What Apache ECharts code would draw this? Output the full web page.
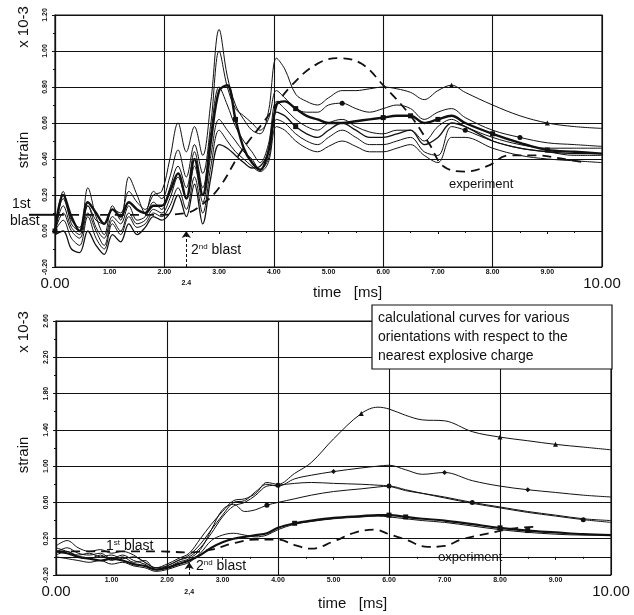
<!DOCTYPE html>
<html>
<head>
<meta charset="utf-8">
<script src="https://cdn.jsdelivr.net/npm/echarts@6.0.0/dist/echarts.min.js"></script>
<style>
html, body { margin: 0; padding: 0; background: #fff; }
#main { width: 634px; height: 615px; }
</style>
</head>
<body>
<div id="main"></div>
<script>
// ---- upper plot : strain at the gauge, calc curves + experiment ----
var topTime = [0, 0.15, 0.3, 0.45, 0.6, 0.75, 0.9, 1.05, 1.2, 1.35,
  1.5, 1.65, 1.8, 1.95, 2.1, 2.25, 2.4, 2.55, 2.7, 2.85,
  3.0, 3.15, 3.3, 3.45, 3.6, 3.75, 3.9, 4.05, 4.2, 4.4,
  4.6, 4.8, 5.0, 5.25, 5.5, 5.75, 6.0, 6.25, 6.5, 6.75,
  7.0, 7.25, 7.5, 8.0, 8.5, 9.0, 9.5, 10.0];
var topCurveA = [0.00, 0.18, 0.06, 0.02, 0.14, 0.06, 0.04, 0.12, 0.10, 0.22,
  0.16, 0.12, 0.20, 0.22, 0.40, 0.60, 0.44, 0.58, 0.42, 0.72,
  1.12, 0.86, 0.70, 0.62, 0.56, 0.54, 0.66, 0.96, 0.90, 0.76,
  0.72, 0.70, 0.74, 0.78, 0.78, 0.79, 0.80, 0.79, 0.77, 0.73,
  0.78, 0.81, 0.77, 0.70, 0.64, 0.60, 0.58, 0.57];
var topCurveB = [0.00, 0.22, 0.04, 0.00, 0.24, 0.08, -0.02, 0.14, 0.06, 0.30,
  0.20, 0.10, 0.22, 0.18, 0.30, 0.45, 0.30, 0.48, 0.32, 0.60,
  1.00, 0.80, 0.68, 0.64, 0.60, 0.56, 0.62, 0.78, 0.74, 0.68,
  0.66, 0.66, 0.70, 0.71, 0.68, 0.66, 0.68, 0.70, 0.68, 0.62,
  0.66, 0.68, 0.63, 0.56, 0.52, 0.49, 0.48, 0.47];
var topCurveC = [0.00, 0.20, 0.08, 0.00, 0.16, 0.10, 0.04, 0.12, 0.08, 0.16,
  0.12, 0.10, 0.14, 0.14, 0.22, 0.32, 0.18, 0.40, 0.20, 0.50,
  0.78, 0.81, 0.62, 0.46, 0.38, 0.34, 0.44, 0.70, 0.72, 0.68,
  0.64, 0.62, 0.60, 0.60, 0.61, 0.62, 0.63, 0.64, 0.64, 0.60,
  0.62, 0.64, 0.60, 0.54, 0.49, 0.45, 0.44, 0.43];
var topCurveD = [0.00, 0.14, 0.02, -0.02, 0.14, 0.02, -0.04, 0.08, 0.04, 0.14,
  0.06, 0.08, 0.16, 0.12, 0.24, 0.36, 0.24, 0.44, 0.24, 0.55,
  0.80, 0.70, 0.58, 0.50, 0.44, 0.38, 0.48, 0.72, 0.68, 0.62,
  0.58, 0.56, 0.60, 0.62, 0.58, 0.55, 0.54, 0.56, 0.56, 0.50,
  0.58, 0.62, 0.58, 0.52, 0.48, 0.46, 0.46, 0.46];
var topCurveE = [0.00, 0.10, 0.00, -0.04, 0.10, 0.00, -0.08, 0.06, 0.00, 0.10,
  0.04, 0.06, 0.12, 0.10, 0.18, 0.30, 0.18, 0.36, 0.16, 0.42,
  0.62, 0.56, 0.50, 0.44, 0.40, 0.34, 0.40, 0.62, 0.60, 0.54,
  0.50, 0.48, 0.52, 0.56, 0.52, 0.48, 0.48, 0.50, 0.52, 0.44,
  0.42, 0.58, 0.56, 0.50, 0.46, 0.44, 0.42, 0.42];
var topCurveF = [0.00, 0.06, -0.04, -0.08, 0.08, -0.04, -0.10, 0.04, -0.02, 0.08,
  0.02, 0.04, 0.10, 0.08, 0.14, 0.24, 0.12, 0.30, 0.10, 0.36,
  0.56, 0.50, 0.44, 0.40, 0.36, 0.33, 0.38, 0.58, 0.56, 0.50,
  0.46, 0.44, 0.47, 0.50, 0.47, 0.44, 0.44, 0.46, 0.48, 0.42,
  0.38, 0.52, 0.52, 0.46, 0.42, 0.40, 0.39, 0.38];
var topCurveG = [-0.02, 0.00, -0.10, -0.12, 0.00, -0.08, -0.13, -0.02, -0.06, 0.04,
  -0.02, 0.02, 0.08, 0.06, 0.10, 0.20, 0.08, 0.26, 0.04, 0.30,
  0.48, 0.46, 0.42, 0.38, 0.35, 0.36, 0.44, 0.66, 0.64, 0.58,
  0.54, 0.52, 0.56, 0.60, 0.56, 0.52, 0.52, 0.54, 0.56, 0.48,
  0.52, 0.60, 0.58, 0.50, 0.46, 0.44, 0.43, 0.43];
var topExpTime = [0, 0.6, 1.2, 1.8, 2.4, 2.7, 3.0, 3.4, 3.8, 4.3, 4.8, 5.2,
  5.6, 6.0, 6.5, 6.85, 7.1, 7.5, 7.9, 8.3, 8.8, 9.3, 9.7];
var topExpStrain = [0.09, 0.09, 0.09, 0.09, 0.10, 0.15, 0.24, 0.44, 0.60, 0.80, 0.93, 0.96,
  0.93, 0.81, 0.64, 0.48, 0.36, 0.33, 0.36, 0.42, 0.42, 0.40, 0.38];

// ---- lower plot ----
var bottomTime = [0, 0.2, 0.4, 0.6, 0.8, 1.0, 1.2, 1.4, 1.6, 1.8,
  2.0, 2.2, 2.4, 2.6, 2.8, 3.0, 3.2, 3.4, 3.6, 3.8,
  4.0, 4.3, 4.6, 5.0, 5.5, 5.8, 6.0, 6.3, 6.6, 7.0,
  7.5, 8.0, 8.5, 9.0, 9.5, 10.0];
var bottomCurve1 = [0.12, 0.18, 0.10, 0.06, 0.08, 0.04, 0.06, 0.02, -0.06, -0.12,
  -0.08, -0.02, 0.04, 0.20, 0.36, 0.50, 0.62, 0.64, 0.70, 0.82,
  0.80, 0.92, 1.04, 1.30, 1.58, 1.65, 1.63, 1.56, 1.51, 1.50,
  1.38, 1.32, 1.28, 1.24, 1.21, 1.18];
var bottomCurve2 = [0.05, 0.10, 0.04, 0.02, 0.04, -0.02, 0.02, -0.04, -0.08, -0.14,
  -0.10, -0.04, 0.02, 0.14, 0.30, 0.46, 0.60, 0.62, 0.72, 0.80,
  0.78, 0.86, 0.90, 0.94, 0.98, 1.00, 1.01, 0.96, 0.91, 0.93,
  0.84, 0.78, 0.74, 0.71, 0.68, 0.66];
var bottomCurve3 = [0.10, 0.06, 0.02, 0.04, 0.00, 0.02, -0.02, 0.00, -0.06, -0.12,
  -0.10, -0.04, 0.00, 0.10, 0.26, 0.44, 0.56, 0.60, 0.68, 0.78,
  0.79, 0.81, 0.82, 0.81, 0.80, 0.79, 0.78, 0.73, 0.70, 0.66,
  0.60, 0.55, 0.50, 0.46, 0.42, 0.40];
var bottomCurve4 = [0.02, 0.06, 0.00, -0.02, 0.02, -0.04, 0.00, -0.06, -0.04, -0.14,
  -0.12, -0.06, -0.02, 0.08, 0.30, 0.52, 0.58, 0.50, 0.52, 0.57,
  0.60, 0.64, 0.68, 0.72, 0.75, 0.77, 0.78, 0.74, 0.70, 0.65,
  0.59, 0.54, 0.49, 0.45, 0.41, 0.38];
var bottomCurve5 = [0.06, 0.04, 0.00, -0.02, -0.04, -0.02, -0.04, -0.08, -0.10, -0.14,
  -0.12, -0.08, -0.04, 0.02, 0.10, 0.16, 0.20, 0.22, 0.24, 0.26,
  0.32, 0.37, 0.40, 0.43, 0.45, 0.46, 0.46, 0.44, 0.42, 0.40,
  0.36, 0.32, 0.29, 0.27, 0.25, 0.24];
var bottomCurve6 = [0.00, -0.02, -0.04, -0.06, -0.04, -0.08, -0.06, -0.10, -0.12, -0.16,
  -0.14, -0.10, -0.06, 0.04, 0.18, 0.24, 0.26, 0.24, 0.22, 0.24,
  0.30, 0.36, 0.39, 0.42, 0.44, 0.45, 0.44, 0.42, 0.40, 0.38,
  0.34, 0.30, 0.27, 0.25, 0.24, 0.24];
var bottomExpTime = [0, 0.6, 1.2, 1.8, 2.4, 2.8, 3.2, 3.6, 4.0, 4.3, 4.6,
  5.0, 5.4, 5.75, 6.0, 6.3, 6.7, 7.0, 7.3, 7.8, 8.2, 8.6];
var bottomExpStrain = [0.06, 0.06, 0.06, 0.06, 0.05, 0.08, 0.15, 0.19, 0.19, 0.13, 0.09,
  0.17, 0.27, 0.30, 0.25, 0.19, 0.11, 0.12, 0.19, 0.26, 0.31, 0.33];

var secondBlast = 2.4;
var legendLines = ['calculational curves for various',
  'orientations with respect to the',
  'nearest explosive charge'];

var ink = '#111';
var font = 'Liberation Sans, Arial, sans-serif';

var chartDom = document.getElementById('main');
var myChart = echarts.init(chartDom, null, { renderer: 'canvas' });

// one calc curve, a few points get a little marker
function curve(times, vals, grid, width, marks, sym) {
  marks = marks || [];
  return {
    type: 'line',
    xAxisIndex: grid * 2,
    yAxisIndex: grid,
    smooth: 0.35,
    symbol: 'circle',
    symbolSize: 0,
    showSymbol: true,
    showAllSymbol: true,
    silent: true,
    lineStyle: { color: ink, width: width },
    itemStyle: { color: ink },
    data: times.map(function (t, i) {
      if (marks.indexOf(i) >= 0) {
        return { value: [t, vals[i]], symbol: sym, symbolSize: 5 };
      }
      return { value: [t, vals[i]] };
    })
  };
}

function experiment(times, vals, grid, arrowTop) {
  return {
    type: 'line',
    xAxisIndex: grid * 2,
    yAxisIndex: grid,
    smooth: 0.4,
    showSymbol: false,
    silent: true,
    lineStyle: { color: ink, width: 1.8, type: [9, 6] },
    data: times.map(function (t, i) { return [t, vals[i]]; }),
    markLine: {
      silent: true,
      symbol: ['none', 'arrow'],
      symbolSize: 7,
      label: { show: false },
      lineStyle: { color: ink, width: 1, type: [3, 2] },
      data: [[{ coord: [secondBlast, -0.2] }, { coord: [secondBlast, arrowTop] }]]
    }
  };
}

function xAxes(grid) {
  return [{
    type: 'value', gridIndex: grid, min: 0, max: 10, interval: 1,
    axisLine: { lineStyle: { color: ink, width: 1.2 } },
    axisTick: { lineStyle: { color: ink }, length: 3 },
    minorTick: { show: true, splitNumber: 2, length: 2, lineStyle: { color: ink } },
    splitLine: { show: false },
    axisLabel: {
      margin: 2,
      color: ink,
      fontFamily: font,
      formatter: function (v) {
        if (v === 0 || v === 10) return '{big|' + v.toFixed(2) + '}';
        return '{small|' + v.toFixed(2) + '}';
      },
      rich: {
        big: { fontSize: 15, fontFamily: font, color: ink, padding: [7, 0, 0, 0] },
        small: { fontSize: 7, fontFamily: font, fontWeight: 'bold', color: ink }
      }
    }
  }, {
    // only for the vertical grid lines every 2 ms
    type: 'value', gridIndex: grid, min: 0, max: 10, interval: 2,
    axisLine: { show: false }, axisTick: { show: false }, axisLabel: { show: false },
    splitLine: { show: true, lineStyle: { color: ink, width: 1.1 } }
  }];
}

function yAxis(grid, min, max, step) {
  return {
    type: 'value', gridIndex: grid, min: min, max: max, interval: step,
    axisLine: { lineStyle: { color: ink, width: 1.2 } },
    axisTick: { lineStyle: { color: ink }, length: 3 },
    minorTick: { show: true, splitNumber: 2, length: 2, lineStyle: { color: ink } },
    splitLine: { show: true, lineStyle: { color: ink, width: 1.1 } },
    axisLabel: {
      rotate: 90, margin: 6, fontSize: 7, fontWeight: 'bold', color: ink, fontFamily: font,
      formatter: function (v) { return v.toFixed(2); }
    }
  };
}

var option = {
  animation: false,
  backgroundColor: '#fff',
  grid: [
    { left: 55, top: 15, width: 547, height: 252, show: true, borderColor: ink, borderWidth: 1.2 },
    { left: 56, top: 321, width: 555, height: 254, show: true, borderColor: ink, borderWidth: 1.2 }
  ],
  xAxis: xAxes(0).concat(xAxes(1)),
  yAxis: [yAxis(0, -0.2, 1.2, 0.2), yAxis(1, -0.2, 2.6, 0.4)],
  series: [
    curve(topTime, topCurveA, 0, 1, [41, 45], 'triangle'),
    curve(topTime, topCurveB, 0, 1, [33, 44], 'circle'),
    curve(topTime, topCurveC, 0, 2.4, [0, 22, 29, 36, 38, 40, 43, 45], 'rect'),
    curve(topTime, topCurveD, 0, 1),
    curve(topTime, topCurveE, 0, 1, [42], 'circle'),
    curve(topTime, topCurveF, 0, 1),
    curve(topTime, topCurveG, 0, 1.3, [29], 'rect'),
    experiment(topExpTime, topExpStrain, 0, 0.0),
    curve(bottomTime, bottomCurve1, 1, 1, [24, 31, 33], 'triangle'),
    curve(bottomTime, bottomCurve2, 1, 1, [23, 29, 32], 'diamond'),
    curve(bottomTime, bottomCurve3, 1, 1, [20, 26, 30], 'circle'),
    curve(bottomTime, bottomCurve4, 1, 1, [19, 34], 'circle'),
    curve(bottomTime, bottomCurve5, 1, 2.2, [21, 26, 27, 31, 32], 'rect'),
    curve(bottomTime, bottomCurve6, 1, 1),
    experiment(bottomExpTime, bottomExpStrain, 1, -0.06)
  ]
};

option && myChart.setOption(option);

// texts and small leader lines, placed from the axes where it makes sense
var sup = { fontSize: 8, fontFamily: font, fill: ink, verticalAlign: 'top' };
function label(x, y, text, size, extra) {
  var s = { text: text, x: 0, y: 0, font: size + 'px ' + font, fill: ink, textVerticalAlign: 'middle' };
  for (var k in extra || {}) s[k] = extra[k];
  return { type: 'text', x: x, y: y, style: s, silent: true };
}
function vLabel(x, y, text, size) {
  return { type: 'text', x: x, y: y, rotation: Math.PI / 2, silent: true,
    style: { text: text, font: size + 'px ' + font, fill: ink, align: 'center', verticalAlign: 'middle' } };
}

var blastTop = myChart.convertToPixel({ xAxisIndex: 0, yAxisIndex: 0 }, [0, topExpStrain[0]]);
var tick24Top = myChart.convertToPixel({ xAxisIndex: 0, yAxisIndex: 0 }, [secondBlast, -0.2]);
var tick24Bot = myChart.convertToPixel({ xAxisIndex: 2, yAxisIndex: 1 }, [secondBlast, -0.2]);
var legendBox = { x: 372, y: 305, w: 240, h: 64 };

var graphics = [
  vLabel(24, 27, 'x 10-3', 15),
  vLabel(24, 150, 'strain', 15),
  vLabel(24, 332, 'x 10-3', 15),
  vLabel(24, 455, 'strain', 15),
  label(12, 204, '1st', 14),
  label(10, 221, 'blast', 14),
  { type: 'line', silent: true, shape: { x1: blastTop[0] - 26, y1: blastTop[1], x2: blastTop[0], y2: blastTop[1] },
    style: { stroke: ink, lineWidth: 2 } },
  { type: 'text', x: 191, y: 250, silent: true,
    style: { text: '2{s|nd} blast', font: '14px ' + font, fill: ink, verticalAlign: 'middle', rich: { s: sup } } },
  { type: 'text', x: tick24Top[0], y: tick24Top[1] + 16, silent: true,
    style: { text: '2.4', font: 'bold 7px ' + font, fill: ink, align: 'center', verticalAlign: 'middle' } },
  label(449, 184, 'experiment', 13),
  label(313, 293, 'time   [ms]', 15),
  { type: 'text', x: 106, y: 546, silent: true,
    style: { text: '1{s|st} blast', font: '14px ' + font, fill: ink, verticalAlign: 'middle', rich: { s: sup } } },
  { type: 'text', x: 196, y: 566, silent: true,
    style: { text: '2{s|nd} blast', font: '14px ' + font, fill: ink, verticalAlign: 'middle', rich: { s: sup } } },
  { type: 'text', x: tick24Bot[0], y: tick24Bot[1] + 17, silent: true,
    style: { text: '2,4', font: 'bold 7px ' + font, fill: ink, align: 'center', verticalAlign: 'middle' } },
  label(438, 557, 'experiment', 13),
  label(318, 604, 'time   [ms]', 15),
  { type: 'rect', silent: true, shape: { x: legendBox.x, y: legendBox.y, width: legendBox.w, height: legendBox.h },
    style: { fill: '#fff', stroke: ink, lineWidth: 1.2 } }
];
legendLines.forEach(function (line, i) {
  graphics.push(label(legendBox.x + 6, legendBox.y + 13 + i * 19, line, 14));
});

myChart.setOption({ graphic: graphics });
</script>
</body>
</html>
